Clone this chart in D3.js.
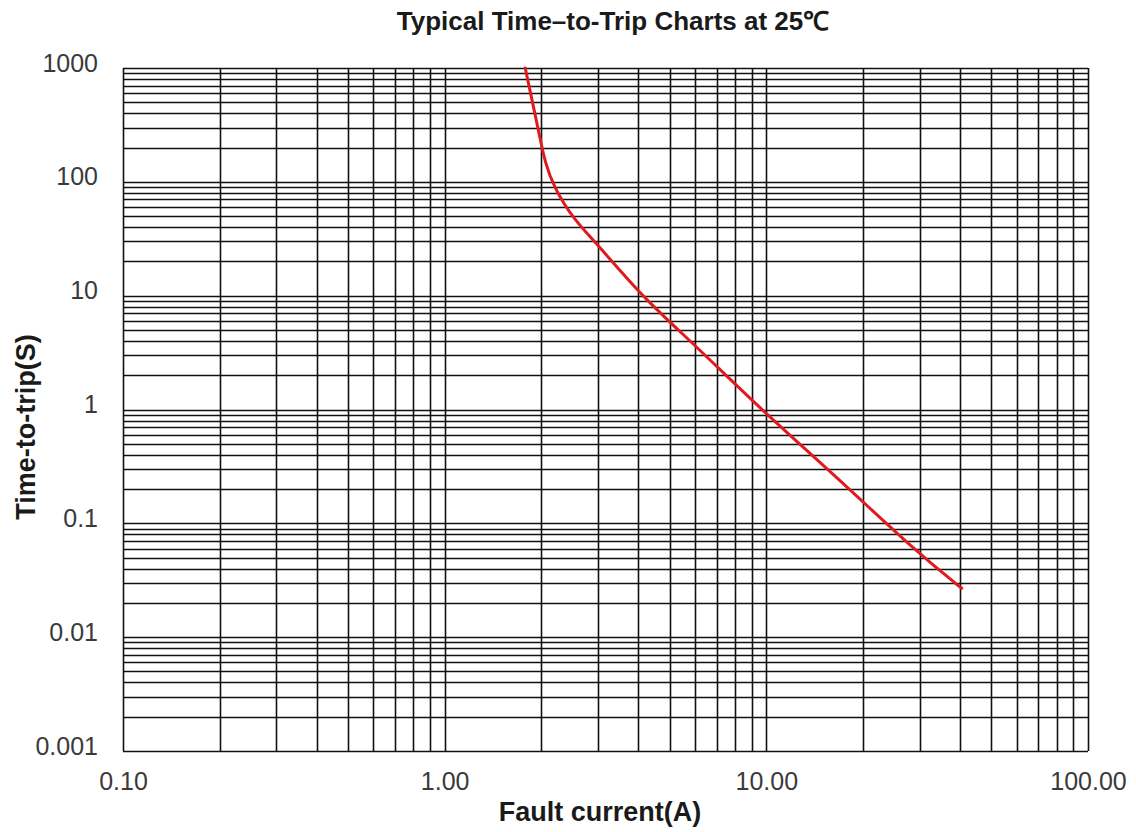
<!DOCTYPE html>
<meta charset="utf-8">
<head>
  <script src="https://d3js.org/d3.v7.min.js"></script>
  <style>
    body { margin: 0; background: #fff; font-family: "Liberation Sans", Arial, Helvetica, sans-serif; }
  </style>
</head>
<body>
  <svg></svg>
  <script>
    // Data
    var currentA  = [1.78, 1.90, 1.98, 2.05, 2.18, 2.52, 2.97, 4.15, 5.93, 9.78, 16.5, 30.0, 40.5];
    var tripTimeS = [1000, 420, 240, 150, 90.6, 46.5, 28.8, 9.5, 3.81, 0.956, 0.257, 0.0527, 0.0269];

    var xTickValues = [0.1, 1, 10, 100];
    var xTickLabels = ["0.10", "1.00", "10.00", "100.00"];
    var yTickValues = [0.001, 0.01, 0.1, 1, 10, 100, 1000];
    var yTickLabels = ["0.001", "0.01", "0.1", "1", "10", "100", "1000"];

    var width = 1136, height = 832;
    var plotLeft = 123, plotRight = 1088, plotTop = 68, plotBottom = 751;

    var svg = d3.select('svg')
      .attr('width', width)
      .attr('height', height);

    var x = d3.scaleLog().domain([0.1, 100]).range([plotLeft, plotRight]);
    var y = d3.scaleLog().domain([0.001, 1000]).range([plotBottom, plotTop]);

    // grid
    var grid = svg.append('g').attr('stroke', '#111').attr('stroke-width', 1.6);
    grid.selectAll('line.h')
      .data(y.ticks())
      .enter().append('line')
      .attr('class', 'h')
      .attr('x1', plotLeft).attr('x2', plotRight)
      .attr('y1', function (d) { return Math.round(y(d)) + 0.5; })
      .attr('y2', function (d) { return Math.round(y(d)) + 0.5; });
    grid.selectAll('line.v')
      .data(x.ticks())
      .enter().append('line')
      .attr('class', 'v')
      .attr('y1', plotTop).attr('y2', plotBottom)
      .attr('x1', function (d) { return Math.round(x(d)) + 0.5; })
      .attr('x2', function (d) { return Math.round(x(d)) + 0.5; });

    // axes (labels only)
    var xAxis = svg.append('g')
      .attr('transform', 'translate(0,' + plotBottom + ')')
      .call(d3.axisBottom(x).tickValues(xTickValues)
        .tickFormat(function (d, i) { return xTickLabels[i]; })
        .tickSize(0).tickPadding(21));
    var yAxis = svg.append('g')
      .attr('transform', 'translate(' + plotLeft + ',0)')
      .call(d3.axisLeft(y).tickValues(yTickValues)
        .tickFormat(function (d, i) { return yTickLabels[i]; })
        .tickSize(0).tickPadding(25));
    svg.selectAll('.domain').remove();
    svg.selectAll('.tick text')
      .style('font-family', '"Liberation Sans", Arial, sans-serif')
      .style('font-size', '25px')
      .attr('fill', '#3a3a3a');
    yAxis.selectAll('.tick text').attr('dy', '0.12em');

    // curve
    var line = d3.line()
      .x(function (d) { return x(d[0]); })
      .y(function (d) { return y(d[1]); })
      .curve(d3.curveBasis);
    svg.append('path')
      .datum(d3.zip(currentA, tripTimeS))
      .attr('d', line)
      .attr('fill', 'none')
      .attr('stroke', '#e01a1f')
      .attr('stroke-width', 3)
      .attr('stroke-linecap', 'round');

    // title and axis labels
    svg.append('text')
      .attr('x', 613).attr('y', 30)
      .attr('text-anchor', 'middle')
      .style('font-size', '26px').style('font-weight', 'bold')
      .attr('fill', '#1a1a1a')
      .text('Typical Time\u2013to-Trip Charts at 25\u2103');
    svg.append('text')
      .attr('x', 600).attr('y', 821)
      .attr('text-anchor', 'middle')
      .style('font-size', '27px').style('font-weight', 'bold')
      .attr('fill', '#1a1a1a')
      .text('Fault current(A)');
    svg.append('text')
      .attr('transform', 'translate(35,427)rotate(-90)')
      .attr('text-anchor', 'middle')
      .style('font-size', '27px').style('font-weight', 'bold')
      .attr('fill', '#1a1a1a')
      .text('Time-to-trip(S)');
  </script>
</body>
</html>
